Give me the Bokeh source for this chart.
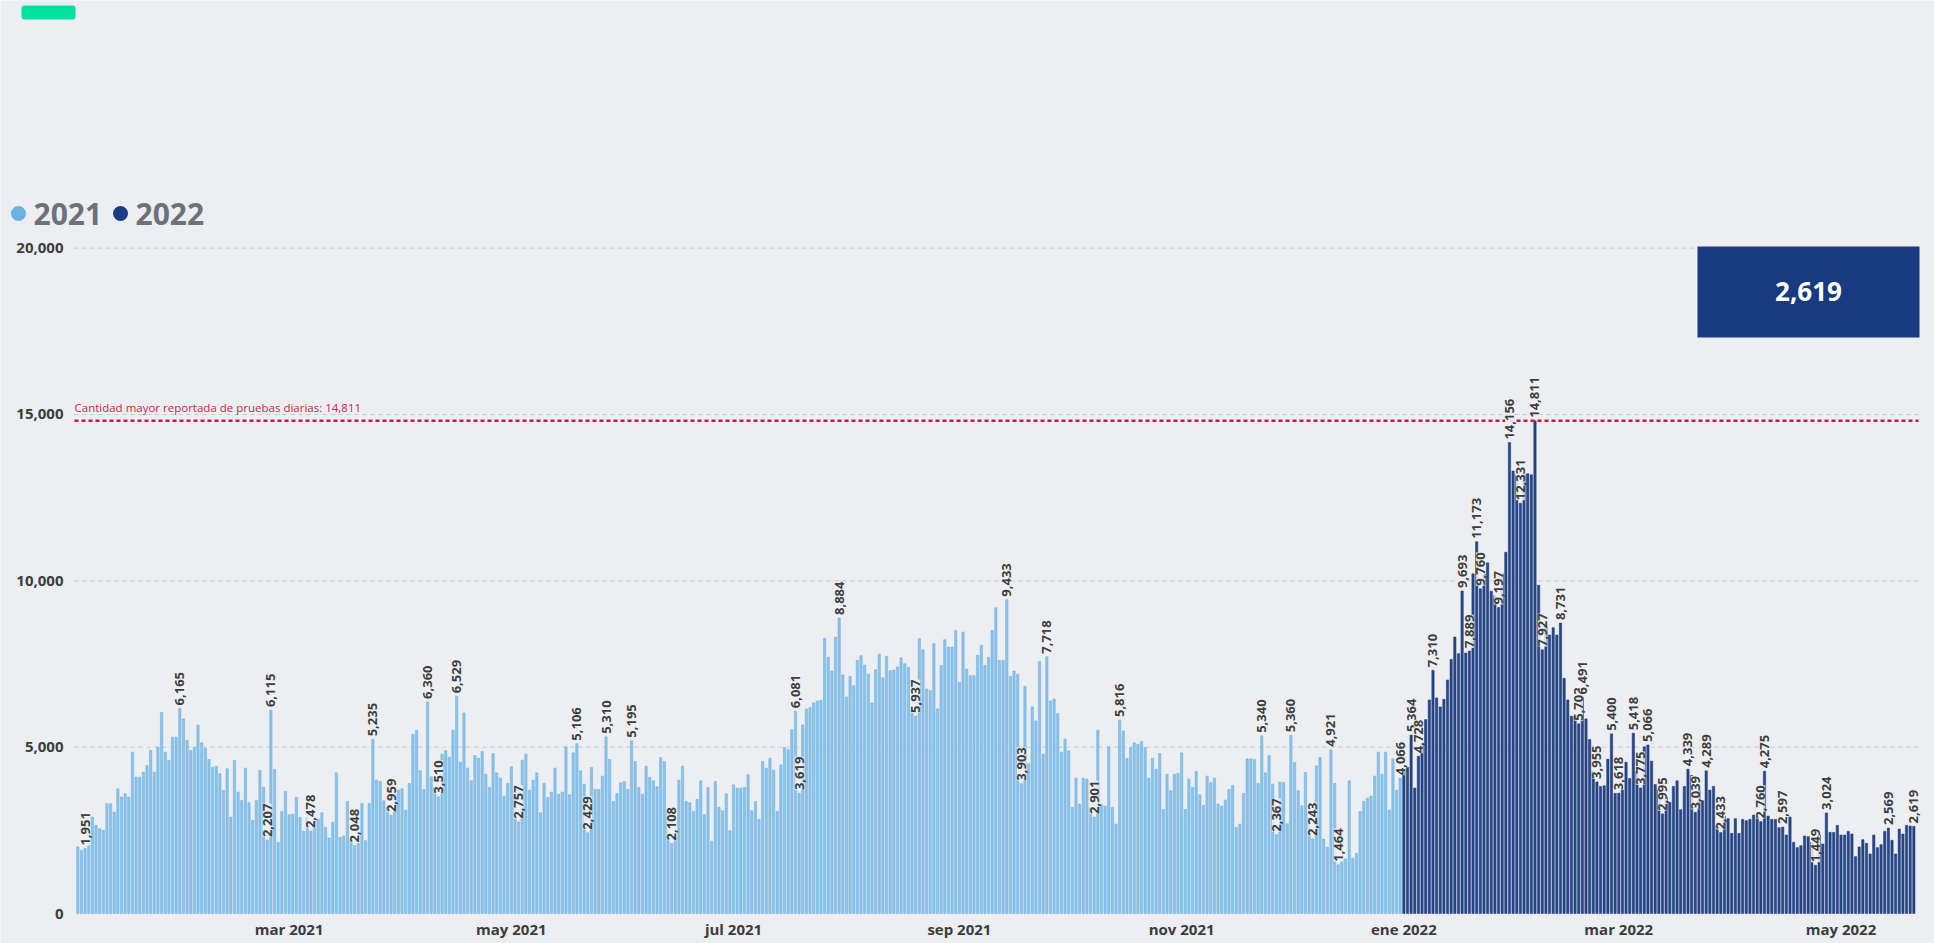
import math
import pandas as pd
from bokeh.plotting import figure
from bokeh.models import (ColumnDataSource, Range1d, Label, LabelSet, BoxAnnotation)
from bokeh.core.properties import value
from bokeh.embed import file_html
from bokeh.resources import INLINE

# ---------------- data (daily tests) ----------------
start_2021 = "2021-01-02"
tests_2021_01 = [2000, 1900, 1951, 2050, 2900, 2650, 2550, 2500, 3300, 3300, 3050, 3750, 3500, 3600, 3500,
                 4850, 4100, 4100, 4250, 4450, 4900, 4250, 5000, 6040, 4850, 4600, 5300, 5300, 6165, 5850]
tests_2021_02 = [5200, 4900, 5000, 5670, 5130, 4970, 4630, 4400, 4430, 4200, 3700, 4350, 2900, 4600,
                 3650, 3400, 4370, 3330, 2800, 3400, 4300, 3800, 2207, 6115, 4330, 2130, 3070, 3670]
tests_2021_03 = [2970, 2990, 3490, 2890, 2470, 2900, 2478, 2840, 2830, 3030, 2590, 2270, 2750, 4230, 2290, 2330,
                 3370, 2200, 2048, 2100, 3310, 2190, 3310, 5235, 4010, 3970, 3390, 3210, 2959, 3590, 3710]
tests_2021_04 = [3750, 3110, 3910, 5390, 5510, 4290, 3730, 6360, 4110, 3790, 3510, 4790, 4900, 4700, 5510,
                 6529, 4550, 6030, 4370, 3990, 4750, 4670, 4870, 4190, 3790, 4810, 4230, 4070, 3530, 3910]
tests_2021_05 = [4410, 3590, 2757, 4610, 4790, 3710, 4010, 4230, 3030, 3910, 3490, 3650, 4370, 3590, 3650, 5010,
                 3570, 4830, 5106, 4290, 3890, 2429, 4390, 3730, 3730, 4130, 5310, 4630, 3370, 3610, 3930]
tests_2021_06 = [3970, 3730, 5195, 4570, 3790, 3590, 4430, 4090, 3990, 3810, 4690, 4570, 3100, 2108, 2290,
                 4010, 4430, 3370, 3330, 3070, 3430, 3990, 2970, 3790, 2170, 3970, 3190, 3090, 3600, 2490]
tests_2021_07 = [3870, 3770, 3770, 3790, 4170, 3090, 3370, 2830, 4570, 4370, 4670, 4310, 3070, 4470, 4990, 4930,
                 5530, 6081, 3619, 5670, 6150, 6190, 6330, 6390, 6410, 8270, 7710, 7290, 8310, 8884, 7170]
tests_2021_08 = [6510, 7130, 6850, 7610, 7750, 7470, 7190, 6330, 7330, 7790, 7090, 7730, 7300, 7320, 7410, 7690,
                 7510, 7400, 6100, 5937, 8260, 7930, 6750, 6700, 8110, 6150, 7460, 8230, 8010, 8010, 8510]
tests_2021_09 = [6950, 8460, 7350, 7150, 7150, 7760, 8060, 7460, 7700, 8510, 9190, 7610, 7610, 9433, 7130,
                 7290, 7190, 3903, 6830, 4500, 6210, 5790, 7570, 4790, 7718, 6390, 6450, 6010, 4850, 5240]
tests_2021_10 = [4890, 3190, 4070, 3290, 4070, 4040, 3190, 2901, 5510, 3270, 3230, 5010, 3190, 2690, 5816, 5490,
                 4660, 4990, 5130, 5090, 5170, 4990, 4070, 4670, 4340, 4810, 3130, 4190, 3690, 4190, 4210]
tests_2021_11 = [4830, 3130, 4040, 3790, 4270, 3570, 3250, 4130, 3930, 4070, 3290, 3230, 3410, 3730, 3850,
                 2590, 2690, 3610, 4650, 4650, 4630, 3910, 5340, 4230, 4750, 3890, 2367, 3950, 3940, 2700]
tests_2021_12 = [5360, 4540, 3690, 3240, 4240, 2890, 2243, 4440, 4690, 2240, 1990, 4921, 3910, 1464, 1590, 1640,
                 3990, 1660, 1810, 3070, 3370, 3470, 3530, 4130, 4850, 4190, 4850, 3110, 4650, 3710, 4066]

start_2022 = "2022-01-01"
tests_2022_01 = [4330, 4390, 5364, 3770, 4728, 5120, 5830, 6420, 7310, 6480, 6210, 6440, 7020, 7640, 8310, 7810,
                 9693, 7830, 7889, 10210, 11173, 9760, 10210, 10540, 9690, 9560, 9197, 10210, 10860, 14156, 13300]
tests_2022_02 = [13160, 12331, 13190, 13220, 13190, 14811, 9870, 7927, 8640, 8370, 8590, 8370, 8731, 7070,
                 6420, 5930, 5930, 5703, 6491, 5850, 5230, 4260, 3955, 3820, 3840, 4640, 5400, 3610]
tests_2022_03 = [3618, 3710, 4550, 4060, 5418, 4260, 3775, 5010, 5066, 4580, 3880, 3710, 2995, 3500, 3340, 3820,
                 3990, 3120, 3820, 4339, 4150, 3039, 3710, 3390, 4289, 3710, 3820, 2630, 2433, 2930, 2850]
tests_2022_04 = [2410, 2850, 2410, 2830, 2790, 2830, 2960, 2900, 2760, 4275, 2930, 2830, 2830, 2580, 2597,
                 2360, 2900, 2140, 1980, 2040, 2330, 2310, 2140, 1449, 2360, 2090, 3024, 2440, 2440, 2650]
tests_2022_05 = [2360, 2360, 2470, 2390, 1710, 2000, 2220, 2110, 1790, 2360, 1980, 2070, 2470, 2569, 2200,
                 1790, 2540, 2390, 2650, 2630, 2619]

labelled_values = [1951, 6165, 6115, 2207, 2478, 2048, 5235, 2959, 6360, 3510, 6529, 2757, 5106, 2429, 5310,
                   5195, 2108, 6081, 3619, 8884, 5937, 9433, 3903, 7718, 2901, 5816, 5340, 2367, 5360, 2243,
                   4921, 1464, 4066, 5364, 4728, 7310, 9693, 7889, 11173, 9760, 9197, 14156, 12331, 14811,
                   7927, 8731, 5703, 6491, 3955, 5400, 3618, 5418, 3775, 5066, 2995, 4339, 3039, 4289, 2433,
                   2760, 4275, 2597, 1449, 3024, 2569, 2619]

record_value = 14811
record_text = "Cantidad mayor reportada de pruebas diarias: "
series_names = ["2021", "2022"]
series_colors = ["#8ac3eb", "#264789"]
series_edges = ["#6aaede", "#1b3677"]
legend_colors = ["#6cb2e3", "#1b3a87"]

month_ticks = ["2021-03-01", "2021-05-01", "2021-07-01", "2021-09-01", "2021-11-01",
               "2022-01-01", "2022-03-01", "2022-05-01"]
month_labels = ["mar 2021", "may 2021", "jul 2021", "sep 2021", "nov 2021",
                "ene 2022", "mar 2022", "may 2022"]
y_ticks = [0, 5000, 10000, 15000, 20000]

# ---------------- build ----------------
v2021 = (tests_2021_01 + tests_2021_02 + tests_2021_03 + tests_2021_04 + tests_2021_05 + tests_2021_06 +
         tests_2021_07 + tests_2021_08 + tests_2021_09 + tests_2021_10 + tests_2021_11 + tests_2021_12)
v2022 = tests_2022_01 + tests_2022_02 + tests_2022_03 + tests_2022_04 + tests_2022_05
d2021 = pd.date_range(start_2021, periods=len(v2021), freq="D")
d2022 = pd.date_range(start_2022, periods=len(v2022), freq="D")

src21 = ColumnDataSource(dict(x=d2021, y=v2021))
src22 = ColumnDataSource(dict(x=d2022, y=v2022))

all_dates = list(d2021) + list(d2022)
all_vals = v2021 + v2022
lab_x, lab_y, lab_t = [], [], []
for v in labelled_values:
    i = all_vals.index(v)
    lab_x.append(all_dates[i])
    lab_y.append(v)
    lab_t.append(f"{v:,}")
lab_src = ColumnDataSource(dict(x=lab_x, y=lab_y, t=lab_t))

DAY = pd.Timedelta(days=1)
first = d2021[0]
# the frame spans the whole canvas; the plotting area proper starts a bit left of the first bar
area_left = first - 0.906 * DAY
area_right = first + 505.27 * DAY
x_start = first - 21.22 * DAY
x_end = first + 509.67 * DAY
UNITS_PER_PX = 30.06
y_start = -30 * UNITS_PER_PX
y_end = 913 * UNITS_PER_PX

W, H = 1934, 943
BG = "#eceef1"
p = figure(width=W, height=H, x_axis_type="datetime", output_backend="svg", toolbar_location=None,
           x_range=Range1d(x_start, x_end), y_range=Range1d(y_start, y_end),
           min_border=0, min_border_left=0, min_border_right=0, min_border_top=0, min_border_bottom=0)
p.border_fill_color = BG
p.background_fill_color = BG
p.outline_line_color = None
p.xaxis.visible = False
p.yaxis.visible = False
p.xgrid.grid_line_color = None
p.ygrid.grid_line_color = None

# grid lines (dashed) at the y ticks above zero
grid_src = ColumnDataSource(dict(x0=[area_left] * (len(y_ticks) - 1), x1=[area_right] * (len(y_ticks) - 1),
                                 y=y_ticks[1:]))
p.segment(x0="x0", y0="y", x1="x1", y1="y", source=grid_src, line_color="#c4c8cd", line_dash="4 4",
          line_width=1)

# y tick labels
ytl = ColumnDataSource(dict(x=[area_left] * len(y_ticks), y=y_ticks, t=[f"{t:,}" for t in y_ticks]))
p.text(x="x", y="y", text="t", source=ytl, x_offset=-11, text_align="right", text_baseline="middle",
       text_font=value("Open Sans"), text_font_style="bold", text_font_size="15px", text_color="#3c3c3c")

# x (month) tick labels
xtl = ColumnDataSource(dict(x=pd.to_datetime(month_ticks), y=[0] * len(month_ticks), t=month_labels))
p.text(x="x", y="y", text="t", source=xtl, y_offset=15, text_align="center", text_baseline="middle",
       text_font=value("Open Sans"), text_font_style="bold", text_font_size="15px", text_color="#3c3c3c")

# bars
bar_w = 0.64 * 86400000
p.vbar(x="x", top="y", width=bar_w, source=src21, fill_color=series_colors[0], line_color=series_edges[0],
       line_width=0.5)
p.vbar(x="x", top="y", width=bar_w, source=src22, fill_color=series_colors[1], line_color=series_edges[1],
       line_width=0.5)

# record line
p.segment(x0=[area_left], y0=[record_value], x1=[area_right], y1=[record_value], line_color="#c8193c",
          line_width=2.5, line_dash="4 3")
p.add_layout(Label(x=74, y=536, x_units="screen", y_units="screen", text=f"{record_text}{record_value:,}",
                   text_font="Open Sans", text_font_size="11.5px", text_color="#cc2748",
                   text_baseline="middle"))

# data labels
p.add_layout(LabelSet(x="x", y="y", text="t", source=lab_src, angle=math.pi / 2, text_align="left",
                      text_baseline="middle", y_offset=3, text_font=value("Open Sans"),
                      text_font_size=value("13px"), text_font_style=value("bold"), text_color=value("#3d3d3d"),
                      background_fill_color="#eef1f4", background_fill_alpha=0.85))

# legend
for k, (name, col) in enumerate(zip(series_names, legend_colors)):
    cx = 18 + k * 102
    p.add_layout(BoxAnnotation(left=cx - 7.5, right=cx + 7.5, bottom=722.5, top=737.5,
                               left_units="screen", right_units="screen", bottom_units="screen",
                               top_units="screen", fill_color=col, fill_alpha=1, line_color=None,
                               border_radius=8))
    p.add_layout(Label(x=cx + 15, y=730, x_units="screen", y_units="screen", text=name,
                       text_font="Open Sans", text_font_style="bold", text_font_size="30px",
                       text_color="#6d7278", text_baseline="middle"))

# top-left green accent
p.add_layout(BoxAnnotation(left=21, right=75, bottom=924, top=938, left_units="screen", right_units="screen",
                           bottom_units="screen", top_units="screen", fill_color="#00e0a0", fill_alpha=1,
                           line_color=None, border_radius=3))

# latest value card
p.add_layout(BoxAnnotation(left=1697, right=1919, bottom=606, top=697, left_units="screen",
                           right_units="screen", bottom_units="screen", top_units="screen",
                           fill_color="#173a80", fill_alpha=1, line_color=None))
p.add_layout(Label(x=1808, y=652, x_units="screen", y_units="screen", text=f"{v2022[-1]:,}",
                   text_font="Open Sans", text_font_style="bold", text_font_size="26px",
                   text_color="white", text_align="center", text_baseline="middle"))

open("out.html", "w").write(file_html(p, INLINE))
